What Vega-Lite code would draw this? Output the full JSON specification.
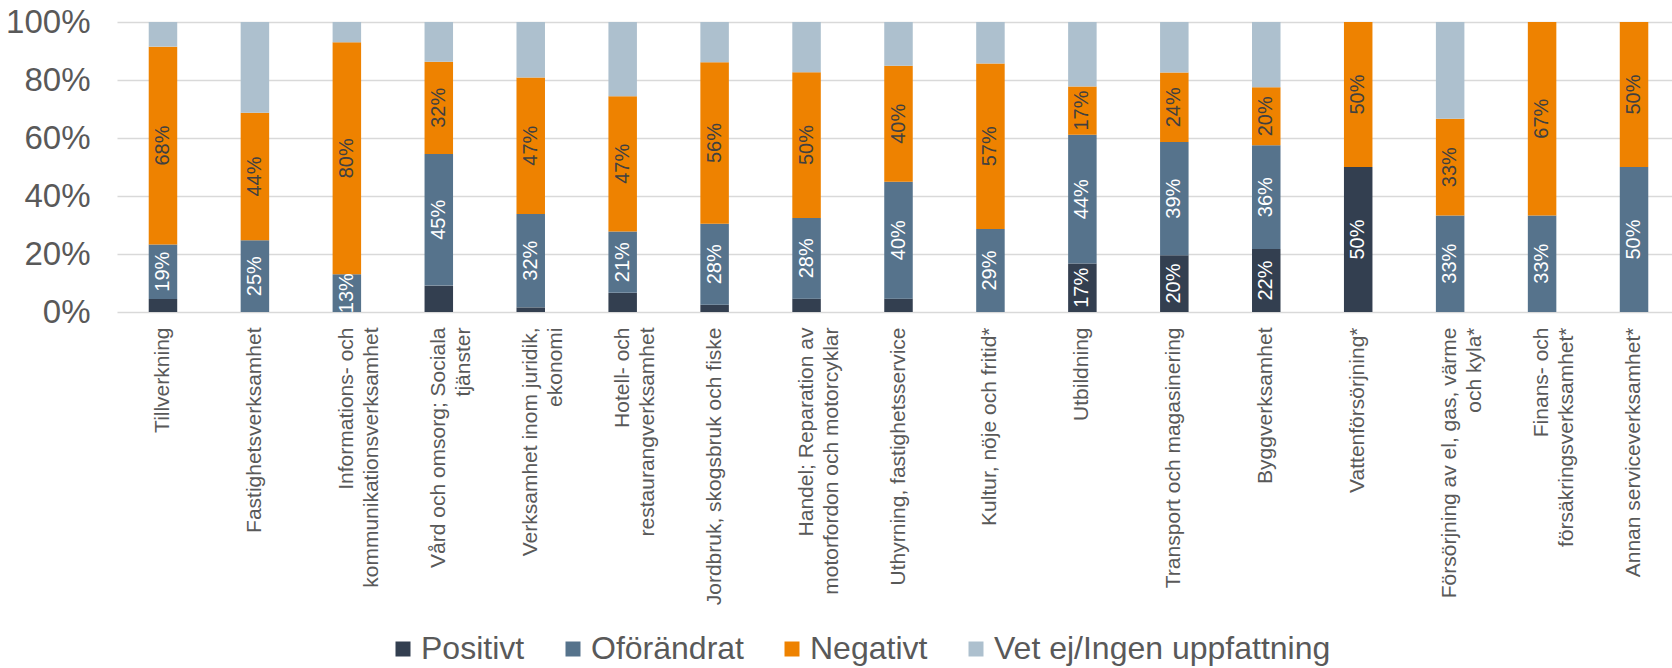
{
  "$schema": "https://vega.github.io/schema/vega-lite/v6.json",
  "width": 1555,
  "height": 290,
  "autosize": {"type": "none"},
  "padding": {"left": 117, "top": 22, "right": 0, "bottom": 356},
  "background": "white",
  "config": {"view": {"stroke": null}, "font": "Liberation Sans"},
  "data": {"values": [
    {"sector": "Tillverkning", "cat": "Positivt", "k": 1, "value": 0.045},
    {"sector": "Tillverkning", "cat": "Oförändrat", "k": 2, "value": 0.188},
    {"sector": "Tillverkning", "cat": "Negativt", "k": 3, "value": 0.682},
    {"sector": "Tillverkning", "cat": "Vet ej/Ingen uppfattning", "k": 4, "value": 0.085},
    {"sector": "Fastighetsverksamhet", "cat": "Oförändrat", "k": 2, "value": 0.247},
    {"sector": "Fastighetsverksamhet", "cat": "Negativt", "k": 3, "value": 0.44},
    {"sector": "Fastighetsverksamhet", "cat": "Vet ej/Ingen uppfattning", "k": 4, "value": 0.313},
    {"sector": "Informations- och|kommunikationsverksamhet", "cat": "Oförändrat", "k": 2, "value": 0.13},
    {"sector": "Informations- och|kommunikationsverksamhet", "cat": "Negativt", "k": 3, "value": 0.80},
    {"sector": "Informations- och|kommunikationsverksamhet", "cat": "Vet ej/Ingen uppfattning", "k": 4, "value": 0.07},
    {"sector": "Vård och omsorg; Sociala|tjänster", "cat": "Positivt", "k": 1, "value": 0.091},
    {"sector": "Vård och omsorg; Sociala|tjänster", "cat": "Oförändrat", "k": 2, "value": 0.454},
    {"sector": "Vård och omsorg; Sociala|tjänster", "cat": "Negativt", "k": 3, "value": 0.318},
    {"sector": "Vård och omsorg; Sociala|tjänster", "cat": "Vet ej/Ingen uppfattning", "k": 4, "value": 0.137},
    {"sector": "Verksamhet inom juridik,|ekonomi", "cat": "Positivt", "k": 1, "value": 0.016},
    {"sector": "Verksamhet inom juridik,|ekonomi", "cat": "Oförändrat", "k": 2, "value": 0.322},
    {"sector": "Verksamhet inom juridik,|ekonomi", "cat": "Negativt", "k": 3, "value": 0.471},
    {"sector": "Verksamhet inom juridik,|ekonomi", "cat": "Vet ej/Ingen uppfattning", "k": 4, "value": 0.191},
    {"sector": "Hotell- och|restaurangverksamhet", "cat": "Positivt", "k": 1, "value": 0.066},
    {"sector": "Hotell- och|restaurangverksamhet", "cat": "Oförändrat", "k": 2, "value": 0.212},
    {"sector": "Hotell- och|restaurangverksamhet", "cat": "Negativt", "k": 3, "value": 0.466},
    {"sector": "Hotell- och|restaurangverksamhet", "cat": "Vet ej/Ingen uppfattning", "k": 4, "value": 0.256},
    {"sector": "Jordbruk, skogsbruk och fiske", "cat": "Positivt", "k": 1, "value": 0.025},
    {"sector": "Jordbruk, skogsbruk och fiske", "cat": "Oförändrat", "k": 2, "value": 0.279},
    {"sector": "Jordbruk, skogsbruk och fiske", "cat": "Negativt", "k": 3, "value": 0.557},
    {"sector": "Jordbruk, skogsbruk och fiske", "cat": "Vet ej/Ingen uppfattning", "k": 4, "value": 0.139},
    {"sector": "Handel; Reparation av|motorfordon och motorcyklar", "cat": "Positivt", "k": 1, "value": 0.046},
    {"sector": "Handel; Reparation av|motorfordon och motorcyklar", "cat": "Oförändrat", "k": 2, "value": 0.278},
    {"sector": "Handel; Reparation av|motorfordon och motorcyklar", "cat": "Negativt", "k": 3, "value": 0.503},
    {"sector": "Handel; Reparation av|motorfordon och motorcyklar", "cat": "Vet ej/Ingen uppfattning", "k": 4, "value": 0.173},
    {"sector": "Uthyrning, fastighetsservice", "cat": "Positivt", "k": 1, "value": 0.046},
    {"sector": "Uthyrning, fastighetsservice", "cat": "Oförändrat", "k": 2, "value": 0.403},
    {"sector": "Uthyrning, fastighetsservice", "cat": "Negativt", "k": 3, "value": 0.40},
    {"sector": "Uthyrning, fastighetsservice", "cat": "Vet ej/Ingen uppfattning", "k": 4, "value": 0.151},
    {"sector": "Kultur, nöje och fritid*", "cat": "Oförändrat", "k": 2, "value": 0.286},
    {"sector": "Kultur, nöje och fritid*", "cat": "Negativt", "k": 3, "value": 0.571},
    {"sector": "Kultur, nöje och fritid*", "cat": "Vet ej/Ingen uppfattning", "k": 4, "value": 0.143},
    {"sector": "Utbildning", "cat": "Positivt", "k": 1, "value": 0.167},
    {"sector": "Utbildning", "cat": "Oförändrat", "k": 2, "value": 0.444},
    {"sector": "Utbildning", "cat": "Negativt", "k": 3, "value": 0.167},
    {"sector": "Utbildning", "cat": "Vet ej/Ingen uppfattning", "k": 4, "value": 0.222},
    {"sector": "Transport och magasinering", "cat": "Positivt", "k": 1, "value": 0.196},
    {"sector": "Transport och magasinering", "cat": "Oförändrat", "k": 2, "value": 0.39},
    {"sector": "Transport och magasinering", "cat": "Negativt", "k": 3, "value": 0.24},
    {"sector": "Transport och magasinering", "cat": "Vet ej/Ingen uppfattning", "k": 4, "value": 0.174},
    {"sector": "Byggverksamhet", "cat": "Positivt", "k": 1, "value": 0.217},
    {"sector": "Byggverksamhet", "cat": "Oförändrat", "k": 2, "value": 0.358},
    {"sector": "Byggverksamhet", "cat": "Negativt", "k": 3, "value": 0.20},
    {"sector": "Byggverksamhet", "cat": "Vet ej/Ingen uppfattning", "k": 4, "value": 0.225},
    {"sector": "Vattenförsörjning*", "cat": "Positivt", "k": 1, "value": 0.5},
    {"sector": "Vattenförsörjning*", "cat": "Negativt", "k": 3, "value": 0.5},
    {"sector": "Försörjning av el, gas, värme|och kyla*", "cat": "Oförändrat", "k": 2, "value": 0.333},
    {"sector": "Försörjning av el, gas, värme|och kyla*", "cat": "Negativt", "k": 3, "value": 0.333},
    {"sector": "Försörjning av el, gas, värme|och kyla*", "cat": "Vet ej/Ingen uppfattning", "k": 4, "value": 0.334},
    {"sector": "Finans- och|försäkringsverksamhet*", "cat": "Oförändrat", "k": 2, "value": 0.333},
    {"sector": "Finans- och|försäkringsverksamhet*", "cat": "Negativt", "k": 3, "value": 0.667},
    {"sector": "Annan serviceverksamhet*", "cat": "Oförändrat", "k": 2, "value": 0.5},
    {"sector": "Annan serviceverksamhet*", "cat": "Negativt", "k": 3, "value": 0.5}
  ]},
  "transform": [
    {"stack": "value", "groupby": ["sector"], "sort": [{"field": "k", "order": "ascending"}], "as": ["y0", "y1"]},
    {"calculate": "(datum.y0 + datum.y1) / 2", "as": "ymid"}
  ],
  "layer": [
    {
      "mark": {"type": "bar"},
      "encoding": {
        "x": {
          "field": "sector", "type": "nominal",
          "scale": {
            "domain": ["Tillverkning", "Fastighetsverksamhet", "Informations- och|kommunikationsverksamhet", "Vård och omsorg; Sociala|tjänster", "Verksamhet inom juridik,|ekonomi", "Hotell- och|restaurangverksamhet", "Jordbruk, skogsbruk och fiske", "Handel; Reparation av|motorfordon och motorcyklar", "Uthyrning, fastighetsservice", "Kultur, nöje och fritid*", "Utbildning", "Transport och magasinering", "Byggverksamhet", "Vattenförsörjning*", "Försörjning av el, gas, värme|och kyla*", "Finans- och|försäkringsverksamhet*", "Annan serviceverksamhet*"],
            "range": [0, 1563], "paddingInner": 0.69, "paddingOuter": 0.345
          },
          "axis": {
            "title": null, "labelAngle": -90, "labelFontSize": 21, "labelColor": "#595959",
            "labelFont": "Liberation Sans", "labelPadding": 15, "domain": false, "ticks": false,
            "labelLimit": 500, "labelExpr": "split(datum.label, '|')", "labelLineHeight": 25
          }
        },
        "y": {
          "field": "y0", "type": "quantitative", "scale": {"domain": [0, 1]},
          "axis": {
            "title": null, "values": [0, 0.2, 0.4, 0.6, 0.8, 1], "format": ".0%",
            "labelFontSize": 33, "labelColor": "#595959", "labelFont": "Liberation Sans",
            "labelPadding": 27, "domain": false, "ticks": false, "grid": true,
            "gridColor": "#D9D9D9", "gridWidth": 1.5
          }
        },
        "y2": {"field": "y1"},
        "color": {
          "field": "cat", "type": "nominal",
          "scale": {
            "domain": ["Positivt", "Oförändrat", "Negativt", "Vet ej/Ingen uppfattning"],
            "range": ["#333F50", "#56738C", "#EE8200", "#ADC0CE"]
          },
          "legend": {
            "orient": "none", "legendX": 270, "legendY": 611, "direction": "horizontal",
            "title": null, "labelFontSize": 32, "labelColor": "#595959", "labelFont": "Liberation Sans",
            "symbolType": "square", "symbolSize": 225, "symbolStrokeWidth": 0,
            "labelOffset": 2, "columnPadding": 32, "labelLimit": 0
          }
        }
      }
    },
    {
      "transform": [{"filter": "datum.k < 4 && datum.value >= 0.1"}],
      "mark": {"type": "text", "angle": 270, "fontSize": 20, "align": "center", "baseline": "middle", "font": "Liberation Sans"},
      "encoding": {
        "x": {"field": "sector", "type": "nominal"},
        "y": {"field": "ymid", "type": "quantitative"},
        "text": {"field": "value", "type": "quantitative", "format": ".0%"},
        "color": {"condition": {"test": "datum.cat === 'Negativt'", "value": "#404040"}, "value": "#FFFFFF"}
      }
    }
  ]
}
